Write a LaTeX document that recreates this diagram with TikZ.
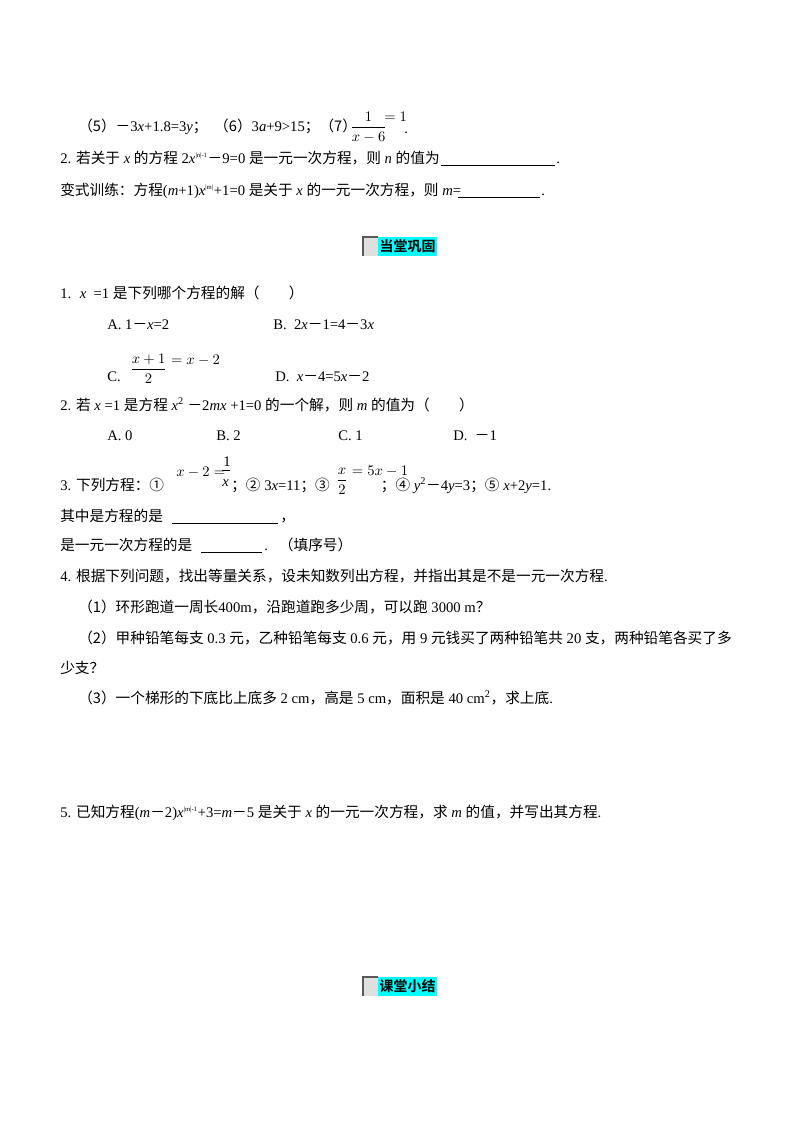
\documentclass[tikz,border=0pt]{standalone}
\usepackage{fontspec}
\setmainfont{Liberation Serif}
\newfontfamily\cjk{Noto Sans CJK SC}
\newfontfamily\cjkb{Noto Sans CJK SC Bold}
\definecolor{hcyan}{RGB}{0,255,255}
\begin{document}
\begin{tikzpicture}[x=0.75pt,y=-0.75pt,
  tl/.style={anchor=base west,inner sep=0,font=\fontsize{11pt}{13pt}\selectfont},
  blank/.style={line width=0.6pt},
  hdr/.style={anchor=center,inner sep=0,font=\fontsize{10.5pt}{12pt}\cjkb}]
\useasboundingbox (0,0) rectangle (800,1132);
\newcommand\C[1]{{\cjk #1}}
\newcommand\M{{\cjk －}}
\node[tl] (l1) at (78,131) {\C{（5）}\M3\textit{x}+1.8=3\textit{y}\C{；\ \ （6）}3\textit{a}+9>15\C{；（7）}};
\node[tl] (f7) at (350,131) {$\displaystyle\frac{1}{x-6}$};
\node[tl] (e7) at (384,121) {$=1$};
\node[tl] (p7) at (404,133) {.};
\node[tl] (l2) at (60,163) {2. \C{若关于} \textit{x} \C{的方程} 2\textit{x}\textsuperscript{\tiny |n|-1}\M9=0 \C{是一元一次方程，则} \textit{n} \C{的值为}};
\coordinate (b1a) at (441,165); \coordinate (b1b) at (555,165);
\draw[blank] (b1a) -- (b1b); \node[tl] (d1) at (556,163) {.};
\node[tl] (l3) at (60,195) {\C{变式训练：方程}(\textit{m}+1)\textit{x}\textsuperscript{\tiny |m|}+1=0 \C{是关于} \textit{x} \C{的一元一次方程，则} \textit{m}=};
\coordinate (b2a) at (458,197); \coordinate (b2b) at (540,197);
\draw[blank] (b2a) -- (b2b); \node[tl] (d2) at (541,195) {.};
% header 1
\fill[hcyan] (378,237) rectangle (437,256);
\fill[gray!25] (363,237) rectangle (378,256);
\draw[gray!70!black,line width=0.8pt] (363,256) -- (363,237) -- (378,237);
\node[hdr] (h1) at (407.5,246.5) {当堂巩固};
\node[tl] (q1) at (60,298) {1. \ \textit{x} \ =1 \C{是下列哪个方程的解（\qquad）}};
\node[tl] (a1) at (107,329) {A. 1\M\textit{x}=2};
\node[tl] (b1) at (273,329) {B. \ 2\textit{x}\M1=4\M3\textit{x}};
\node[tl] (c1) at (107,381) {C.};
\node[tl] (cf) at (130,373) {$\displaystyle\frac{x+1}{2}\raisebox{1.2ex}{${}=x-2$}$};
\node[tl] (dd1) at (275,381) {D. \ \textit{x}\M4=5\textit{x}\M2};
\node[tl] (q2) at (60,410) {2. \C{若} \textit{x} =1 \C{是方程} \textit{x}\textsuperscript{2} \M2\textit{mx} +1=0 \C{的一个解，则} \textit{m} \C{的值为（\qquad）}};
\node[tl] (a2) at (107,440) {A. 0};
\node[tl] (b2) at (216,440) {B. 2};
\node[tl] (c2) at (338,440) {C. 1};
\node[tl] (d2b) at (453,440) {D. \ \M1};
\node[tl] (q3) at (60,490) {3. \C{下列方程：①}};
\node[tl] (e1) at (176,476) {$x-2=$};
\node[tl] (e1n) at (223,466) {1};
\draw[line width=0.4pt] (222,470) -- (230,470);
\node[tl] (e1d) at (222,486) {\textit{x}};
\node[tl] (q3b) at (231,490) {\C{；②} 3\textit{x}=11\C{；③}};
\node[tl] (e2) at (336,484) {$\displaystyle\frac{x}{2}\raisebox{1.2ex}{${}=5x-1$}$};
\node[tl] (q3c) at (374,490) {\C{\ \ ；④} \textit{y}\textsuperscript{2}\M4\textit{y}=3\C{；⑤} \textit{x}+2\textit{y}=1.};
\node[tl] (q3d) at (60,521) {\C{其中是方程的是}};
\coordinate (b3a) at (172,523); \coordinate (b3b) at (278,523);
\draw[blank] (b3a) -- (b3b); \node[tl] (c3) at (280,521) {\C{，}};
\node[tl] (q3e) at (60,550) {\C{是一元一次方程的是}};
\coordinate (b4a) at (201,552); \coordinate (b4b) at (262,552);
\draw[blank] (b4a) -- (b4b); \node[tl] (c4) at (264,550) {.\ \ \ \C{（填序号）}};
\node[tl] (q4) at (60,581) {4. \C{根据下列问题，找出等量关系，设未知数列出方程，并指出其是不是一元一次方程}.};
\node[tl] (q41) at (78,612) {\C{（1）环形跑道一周长}400m\C{，沿跑道跑多少周，可以跑} 3000 m\C{？}};
\node[tl] (q42) at (78,643) {\C{（2）甲种铅笔每支} 0.3 \C{元，乙种铅笔每支} 0.6 \C{元，用} 9 \C{元钱买了两种铅笔共} 20 \C{支，两种铅笔各买了多}};
\node[tl] (q42b) at (60,673) {\C{少支？}};
\node[tl] (q43) at (78,703) {\C{（3）一个梯形的下底比上底多} 2 cm\C{，高是} 5 cm\C{，面积是} 40 cm\textsuperscript{2}\C{，求上底}.};
\node[tl] (q5) at (60,817) {5. \C{已知方程}(\textit{m}\M2)\textit{x}\textsuperscript{\tiny |m|-1}+3=\textit{m}\M5 \C{是关于} \textit{x} \C{的一元一次方程，求} \textit{m} \C{的值，并写出其方程}.};
% header 2
\fill[hcyan] (378,977) rectangle (437,996);
\fill[gray!25] (363,977) rectangle (378,996);
\draw[gray!70!black,line width=0.8pt] (363,996) -- (363,977) -- (378,977);
\node[hdr] (h2) at (407.5,986.5) {课堂小结};
\end{tikzpicture}
\end{document}
